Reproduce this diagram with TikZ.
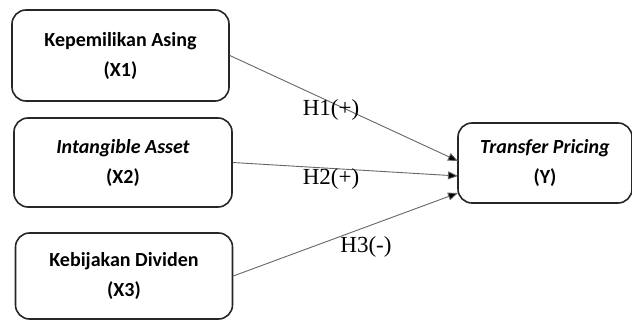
\documentclass[tikz,border=0pt]{standalone}
\usepackage{fontspec}
\setmainfont{Liberation Serif}
\newfontfamily\boxfont{Carlito}
\usetikzlibrary{arrows.meta}
\begin{document}
\begin{tikzpicture}[x=1pt,y=-1pt,
  varbox/.style={draw=black!85, line width=1.6pt, rounded corners=14pt, align=center,
    font=\boxfont\bfseries\fontsize{20}{30}\selectfont, inner sep=0pt},
  link/.style={draw=black!60, line width=0.9pt, -{Triangle[length=10pt,width=8pt,fill=black]}},
  hyp/.style={font=\fontsize{23}{26}\selectfont, inner sep=0pt}]
\useasboundingbox (0,0) rectangle (632,323);
\node[varbox, minimum width=217pt, minimum height=91pt] (x1) at (120.5,55.5) {Kepemilikan Asing\\(X1)};
\node[varbox, minimum width=218pt, minimum height=89pt] (x2) at (123,162.5) {\itshape Intangible Asset\\(X2)};
\node[varbox, minimum width=217pt, minimum height=86pt] (x3) at (124,276) {Kebijakan Dividen\\(X3)};
\node[varbox, minimum width=174pt, minimum height=80pt] (y) at (545,163) {\itshape Transfer Pricing\\(Y)};
\coordinate (t1) at (458,161);
\coordinate (t2) at (458,176);
\coordinate (t3) at (458,193);
\draw[link] (x1.east) -- (t1);
\draw[link] (x2.east) -- (t2);
\draw[link] (x3.east) -- (t3);
\node[hyp] (h1) at (331,110) {H1(+)};
\node[hyp] (h2) at (331,179) {H2(+)};
\node[hyp] (h3) at (366,247) {H3(-)};
\end{tikzpicture}
\end{document}
